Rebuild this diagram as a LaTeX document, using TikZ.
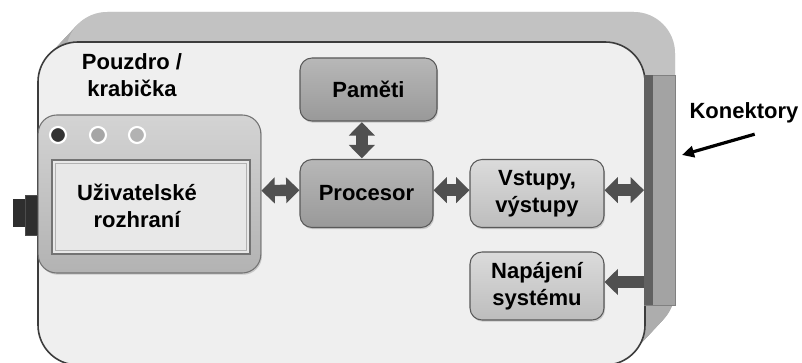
\documentclass[tikz,border=0pt]{standalone}
\usepackage{fontspec}
\setmainfont{Liberation Sans}
\usetikzlibrary{arrows.meta,shadows}
\definecolor{casefront}{HTML}{EFEFEF}
\definecolor{caseside}{HTML}{ADADAD}
\definecolor{caseline}{HTML}{3C3C3C}
\definecolor{arrowgray}{HTML}{505050}
\definecolor{darkfill}{HTML}{2E2E2E}
\tikzset{
  boxbase/.style={rectangle, rounded corners=9pt, draw=black!65, line width=0.8pt,
    align=center, inner sep=0pt,
    drop shadow={shadow xshift=0.8pt, shadow yshift=-1.3pt, opacity=0.35}},
  darkbox/.style={boxbase, top color=black!28, bottom color=black!40,
    minimum width=100pt, minimum height=49pt},
  lightbox/.style={boxbase, top color=black!14, bottom color=black!26,
    minimum width=100.5pt, minimum height=51pt},
  fatarrow/.style={draw=arrowgray, line width=8.5pt,
    {Triangle[width=19pt,length=10pt]}-{Triangle[width=19pt,length=10pt]}},
  fatsingle/.style={draw=arrowgray, line width=8.5pt, -{Triangle[width=19pt,length=10pt]}},
  konarrow/.style={draw=black, line width=2.4pt, -{Triangle[width=8.5pt,length=9pt]}},
  ledbox/.style={circle, draw=white, line width=1.6pt, minimum size=12pt, inner sep=0pt},
  plain/.style={inner sep=0pt, align=center}
}
\begin{document}
\begin{tikzpicture}[x=0.75pt, y=-0.75pt, font=\fontsize{16.5}{20}\selectfont\bfseries]
\path[use as bounding box, clip] (0,0) rectangle (802,363);
\fill[white] (0,0) rectangle (802,363);
% case back / sides (extrusion)
\foreach \t in {0,1,...,30}{
  \fill[caseside, rounded corners=31pt] (38+28*\t/30,42-\t) rectangle (647+28*\t/30,362-\t);
}
\fill[black!8, opacity=0.35, rounded corners=31pt] (66,12) rectangle (675,200);
% front face
\draw[caseline, fill=casefront, line width=1.2pt, rounded corners=30pt] (38,42) rectangle (645,365);
% connector bar
\node[rectangle, fill=black!36, draw=black!50, line width=0.5pt, minimum width=23.5pt, minimum height=172.5pt, inner sep=0pt] (conn) at (660,190) {};
\fill[black!62] (conn.north west) rectangle ([xshift=6.5pt]conn.south west);
% left button
\node[rectangle, fill=darkfill, minimum width=10pt, minimum height=21pt, inner sep=0pt] (btnA) at (19.5,213.5) {};
\node[rectangle, fill=darkfill, draw=black!70, minimum width=11pt, minimum height=30pt, inner sep=0pt] (btnB) at (32.5,215) {};
% user interface device
\node[rectangle, rounded corners=14pt, draw=black!55, line width=0.8pt, top color=black!17, bottom color=black!30,
  minimum width=167pt, minimum height=118.5pt, inner sep=0pt,
  drop shadow={shadow xshift=0.8pt, shadow yshift=-1.3pt, opacity=0.35}] (ui) at (149.5,194) {};
\node[rectangle, draw=black!55, line width=0.9pt, fill=black!9, minimum width=148.5pt, minimum height=70.5pt, inner sep=0pt] (scr) at (151,207) {};
\node[rectangle, draw=black!30, line width=0.6pt, minimum width=143pt, minimum height=65pt, inner sep=0pt] (scrin) at (151,207) {};
\node[plain] (scrtxt) at (137,206) {Uživatelské\\rozhraní};
\node[ledbox, fill=black!80] (led1) at (58,135) {};
\node[ledbox, fill=black!35] (led2) at (98,135) {};
\node[ledbox, fill=black!30] (led3) at (137,135) {};
% blocks
\node[darkbox, minimum width=102.75pt, minimum height=47.25pt] (pam) at (368.5,89.5) {Paměti};
\node[darkbox, minimum width=99.75pt, minimum height=51pt] (proc) at (366.5,193.5) {Procesor};
\node[lightbox] (vst) at (537,193.5) {Vstupy,\\výstupy};
\node[lightbox] (nap) at (537,286) {Napájení\\systému};
% labels
\node[plain] (pouz) at (132,75) {Pouzdro /\\krabička};
\node[plain] (kon) at (744,113) {Konektory};
\coordinate (konpt) at (682,155);
% arrows
\draw[fatarrow] ([xshift=-3.5pt,yshift=-0.5pt]proc.north |- pam.south) -- ([xshift=-3.5pt,yshift=0.5pt]proc.north);
\draw[fatarrow] ([yshift=2.5pt]ui.east) -- ([yshift=2.5pt]proc.west);
\draw[fatarrow] ([yshift=2.5pt]proc.east) -- ([yshift=2.5pt]vst.west);
\draw[fatarrow] ([yshift=2.5pt]vst.east) -- ([yshift=2.5pt]conn.west |- vst.east);
\draw[fatsingle] ([yshift=3pt]conn.west |- nap.east) -- ([yshift=3pt]nap.east);
\draw[konarrow] ([xshift=8pt,yshift=-8pt]kon.south) -- (konpt);
\end{tikzpicture}
\end{document}
